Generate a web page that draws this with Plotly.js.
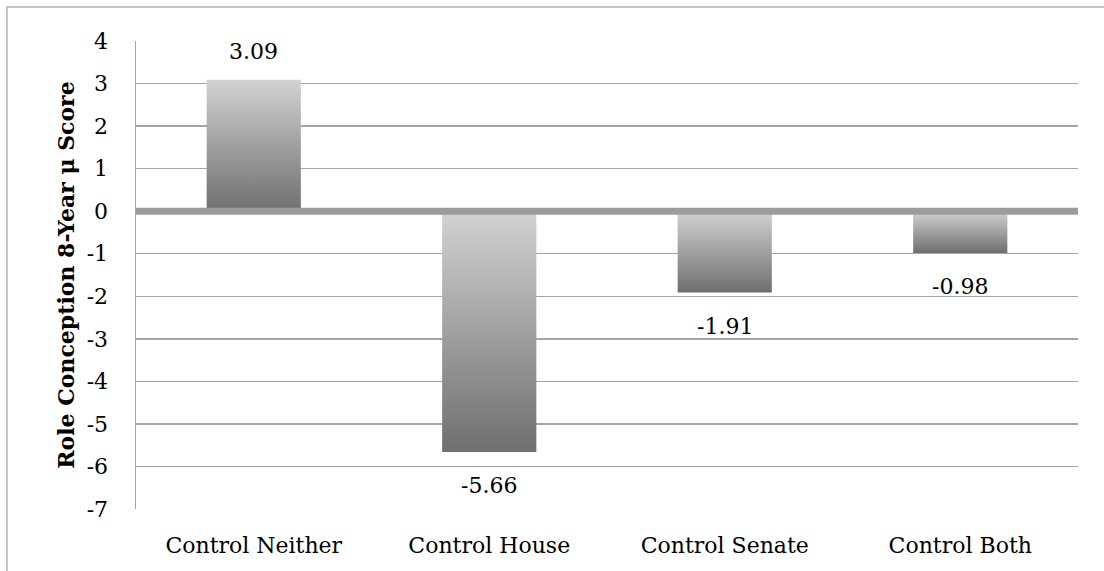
<!DOCTYPE html>
<html>
<head>
<meta charset="utf-8">
<script src="https://cdn.plot.ly/plotly-3.0.1.min.js"></script>
<style>html,body{margin:0;padding:0;background:#fff;}#chart{width:1104px;height:571px;}</style>
</head>
<body>
<div id="chart"></div>
<script>
const categories = ["Control Neither", "Control House", "Control Senate", "Control Both"];
const values = [3.09, -5.66, -1.91, -0.98];
const valueLabels = ["3.09", "-5.66", "-1.91", "-0.98"];
const yTicks = [4, 3, 2, 1, 0, -1, -2, -3, -4, -5, -6, -7];

const FONT = "DejaVu Serif, Liberation Serif, serif";
const half = 0.2;
const traces = [];
categories.forEach((c, i) => {
  const v = values[i];
  traces.push({
    type: "scatter",
    mode: "lines",
    x: [i - half, i + half, i + half, i - half, i - half],
    y: [0, 0, v, v, 0],
    fill: "toself",
    fillgradient: {type: "vertical", colorscale: [[0, "#6f6f6f"], [1, "#d2d2d2"]]},
    line: {width: 0, color: "rgba(0,0,0,0)"},
    hoverinfo: "skip",
    showlegend: false
  });
});

const annotations = categories.map((c, i) => ({
  x: i, y: values[i], xref: "x", yref: "y",
  text: valueLabels[i], showarrow: false,
  yanchor: "middle", yshift: values[i] >= 0 ? 28 : -34,
  font: {family: FONT, size: 22, color: "#000"}
}));

const layout = {
  width: 1104, height: 571,
  margin: {l: 136, r: 26, t: 41, b: 62},
  paper_bgcolor: "#fff", plot_bgcolor: "#fff",
  showlegend: false,
  font: {family: FONT, color: "#000"},
  xaxis: {
    range: [-0.5, 3.5], tickmode: "array",
    tickvals: categories.map((c, i) => i), ticktext: categories,
    showgrid: false, zeroline: false, showline: false,
    ticks: "outside", ticklen: 17, tickcolor: "rgba(0,0,0,0)",
    tickfont: {family: FONT, size: 22, color: "#000"}, fixedrange: true
  },
  yaxis: {
    range: [-7, 4], tickmode: "array", tickvals: yTicks,
    ticktext: yTicks.map(String),
    showgrid: true, gridcolor: "#a5a5a5", gridwidth: 1.5,
    zeroline: false, showline: true, linecolor: "#a5a5a5", linewidth: 1.5,
    ticks: "outside", ticklen: 22, tickcolor: "rgba(0,0,0,0)",
    tickfont: {family: FONT, size: 22, color: "#000"},
    title: {text: "<b>Role Conception 8-Year μ Score</b>", font: {family: FONT, size: 22, color: "#000"}, standoff: 6},
    fixedrange: true
  },
  shapes: [
    {type: "line", xref: "paper", yref: "y", x0: 0, x1: 1, y0: 0, y1: 0,
     line: {color: "#9c9c9c", width: 7}, layer: "above"},
    {type: "rect", xref: "paper", yref: "paper", x0: -0.137, x1: 1.2, y0: -0.3, y1: 1.0726,
     line: {color: "#b3b3b3", width: 1.5}, fillcolor: "rgba(0,0,0,0)", layer: "below"}
  ],
  annotations: annotations
};

Plotly.newPlot("chart", traces, layout, {displayModeBar: false, staticPlot: true});
</script>
</body>
</html>
